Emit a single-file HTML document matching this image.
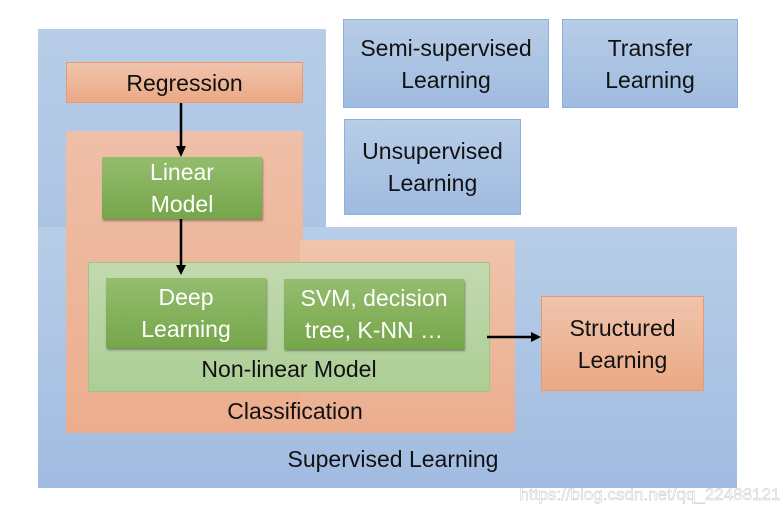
<!DOCTYPE html>
<html><head><meta charset="utf-8"><style>
body{margin:0;width:780px;height:512px;background:#fff;position:relative;overflow:hidden;font-family:"Liberation Sans",sans-serif;}
div{position:absolute;box-sizing:border-box;}
.t{display:flex;align-items:center;justify-content:center;text-align:center;font-size:23px;line-height:32px;color:#111;white-space:nowrap;}
.blue{background:linear-gradient(#b8cde7,#a2bde2);}
.bbox{background:linear-gradient(#b8cde7,#9fbbe0);border:1.5px solid #8eb0dc;}
.obox{background:linear-gradient(#f0c4ad,#eba984);border:1.5px solid #e89a6e;}
.g{background:linear-gradient(#94bd6e,#76a64a);color:#fff;box-shadow:1px 2px 2px rgba(0,0,0,.35);}
.bg{background:linear-gradient(#f0c4ad,#ebae90);}
</style></head><body>
<div class="blue" style="left:38px;top:29px;width:288px;height:200px;background:linear-gradient(#b8cde7,#acc4e4);"></div>
<div class="blue" style="left:38px;top:227px;width:699px;height:261px;background:linear-gradient(#b8cde7,#a1bce1);"></div>
<div class="bg" style="left:66px;top:131px;width:237px;height:302px;background:linear-gradient(#efbfa7,#ebad8e);"></div>
<div class="bg" style="left:300px;top:240px;width:215px;height:193px;background:linear-gradient(#f0c4ad,#ebad8e);"></div>
<div class="t obox" style="left:66px;top:62px;width:237px;height:41px;">Regression</div>
<div class="t g" style="left:102px;top:157px;width:160px;height:62px;">Linear<br>Model</div>
<div style="left:88px;top:262px;width:402px;height:130px;background:linear-gradient(#c2d9b0,#acce95);border:1.5px solid #9cc77e;"></div>
<div class="t g" style="left:106px;top:278px;width:160px;height:70px;">Deep<br>Learning</div>
<div class="t g" style="left:284px;top:279px;width:180px;height:70px;">SVM, decision<br>tree, K-NN …</div>
<div class="t" style="left:88px;top:353px;width:402px;height:32px;">Non-linear Model</div>
<div class="t" style="left:66px;top:395px;width:458px;height:32px;">Classification</div>
<div class="t" style="left:193px;top:443px;width:400px;height:32px;">Supervised Learning</div>
<div class="t obox" style="left:541px;top:296px;width:163px;height:95px;">Structured<br>Learning</div>
<div class="t bbox" style="left:343px;top:19px;width:206px;height:89px;">Semi-supervised<br>Learning</div>
<div class="t bbox" style="left:562px;top:19px;width:176px;height:89px;">Transfer<br>Learning</div>
<div class="t bbox" style="left:344px;top:119px;width:177px;height:96px;">Unsupervised<br>Learning</div>
<svg width="780" height="512" style="position:absolute;left:0;top:0">
<g stroke="#000" stroke-width="2.5" fill="none">
<line x1="181" y1="103" x2="181" y2="147"/>
<line x1="181" y1="219" x2="181" y2="266"/>
<line x1="487" y1="337" x2="532" y2="337"/>
</g>
<g fill="#000">
<polygon points="176,146 186,146 181,157"/>
<polygon points="176,265 186,265 181,275"/>
<polygon points="531,332 531,342 541,337"/>
</g>
<text x="650" y="500" text-anchor="middle" font-family="Liberation Sans" font-size="17" fill="#fff" fill-opacity="0.75" stroke="#bbb" stroke-width="0.4">https://blog.csdn.net/qq_22488121</text>
</svg>
</body></html>
